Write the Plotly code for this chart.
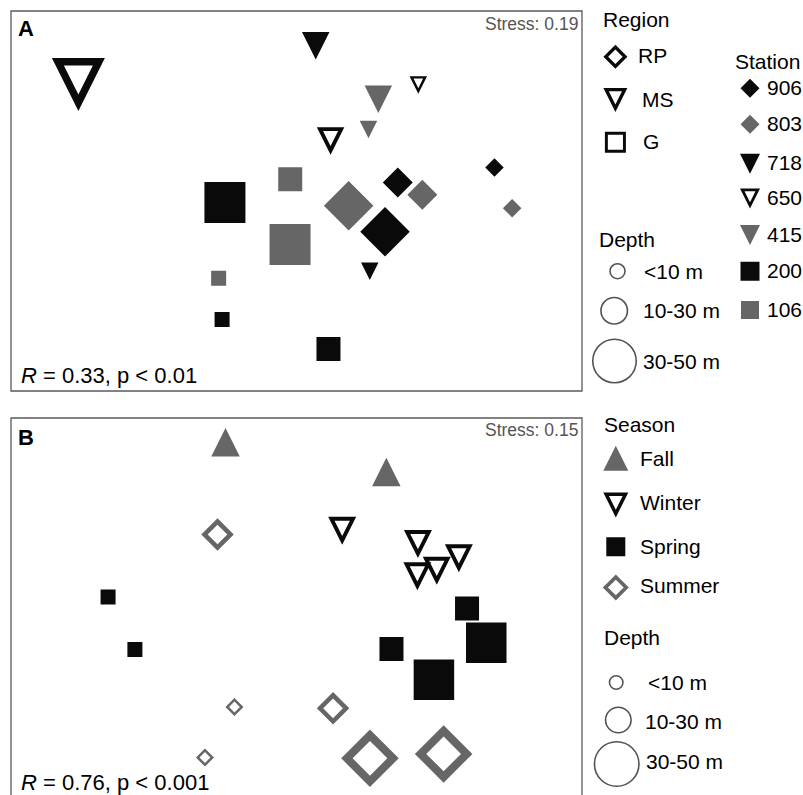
import numpy as np
import plotly.graph_objects as go

FIG_W, FIG_H = 803, 795
FONT = "Liberation Sans, Arial, Helvetica, sans-serif"
BLACK = "#0a0a0a"
GRAY = "#666666"
FRAME = "#5a5a5a"

# ---------------- data ----------------
# Panel A: NMDS scores by station (region) and depth class
a_station = ["650", "718", "415", "415", "650", "650", "718",
             "200", "200", "200", "106", "106", "106",
             "803", "906", "803", "906", "906", "803"]
a_depth = ["30-50 m", "10-30 m", "10-30 m", "<10 m", "10-30 m", "<10 m", "<10 m",
           "30-50 m", "<10 m", "10-30 m", "10-30 m", "30-50 m", "<10 m",
           "30-50 m", "10-30 m", "10-30 m", "30-50 m", "<10 m", "<10 m"]
a_nmds1 = [-1.146, 0.101, 0.430, 0.378, 0.179, 0.640, 0.385,
           -0.376, -0.391, 0.168, -0.033, -0.034, -0.409,
           0.274, 0.532, 0.661, 0.465, 1.040, 1.133]
a_nmds2 = [0.613, 0.817, 0.536, 0.376, 0.316, 0.611, -0.370,
           -0.008, -0.624, -0.779, 0.114, -0.229, -0.407,
           -0.025, 0.097, 0.033, -0.162, 0.176, -0.038]

# Panel B: NMDS scores by season and depth class
b_season = ["Fall", "Fall",
            "Winter", "Winter", "Winter", "Winter", "Winter",
            "Spring", "Spring", "Spring", "Spring", "Spring", "Spring",
            "Summer", "Summer", "Summer", "Summer", "Summer", "Summer"]
b_depth = ["10-30 m", "10-30 m",
           "10-30 m", "10-30 m", "10-30 m", "10-30 m", "10-30 m",
           "<10 m", "<10 m", "10-30 m", "10-30 m", "30-50 m", "30-50 m",
           "10-30 m", "<10 m", "<10 m", "10-30 m", "30-50 m", "30-50 m"]
b_nmds1 = [-0.373, 0.472,
           0.240, 0.638, 0.853, 0.737, 0.635,
           -0.990, -0.849, 0.896, 0.499, 0.997, 0.722,
           -0.415, -0.326, -0.481, 0.192, 0.386, 0.773]
b_nmds2 = [0.873, 0.716,
           0.406, 0.337, 0.262, 0.196, 0.167,
           0.058, -0.218, -0.002, -0.216, -0.183, -0.377,
           0.387, -0.521, -0.787, -0.528, -0.791, -0.768]

depth_classes = ["<10 m", "10-30 m", "30-50 m"]
regions = ["RP", "MS", "G"]
stations = ["906", "803", "718", "650", "415", "200", "106"]
seasons = ["Fall", "Winter", "Spring", "Summer"]
stress_a, stress_b = 0.19, 0.15
anosim_a = ("0.33", "0.01")
anosim_b = ("0.76", "0.001")

# ---------------- styles ----------------
# (shape, colour, open outline)
region_style = {"RP": ("dia", BLACK, True), "MS": ("tri_dn", BLACK, True), "G": ("sq", BLACK, True)}
station_style = {
    "906": ("dia", BLACK, False), "803": ("dia", GRAY, False),
    "718": ("tri_dn", BLACK, False), "650": ("tri_dn", BLACK, True),
    "415": ("tri_dn", GRAY, False),
    "200": ("sq", BLACK, False), "106": ("sq", GRAY, False),
}
season_style = {
    "Fall": ("tri_up", GRAY, False), "Winter": ("tri_dn", BLACK, True),
    "Spring": ("sq", BLACK, False), "Summer": ("dia", GRAY, True),
}
# marker widths in pixels for each depth class
size_a = {"tri_dn": [17.5, 27.5, 53], "tri_up": [17.5, 27.5, 53],
          "sq": [15, 24, 41], "dia": [18.5, 30, 49.5]}
size_b = {"tri_dn": [17.5, 28, 53], "tri_up": [17.5, 28.5, 53],
          "sq": [15, 24, 40.5], "dia": [18, 32.5, 57.5]}
RING = 0.14  # outline thickness relative to marker width

# ---------------- geometry ----------------
PX_X = (11, 582)
A_PX_Y = (11, 391)
B_PX_TOP = 418
X_RANGE = (-1.5, 1.5)
A_Y_RANGE = (-1.0, 1.0)
SX = (PX_X[1] - PX_X[0]) / (X_RANGE[1] - X_RANGE[0])
SY = (A_PX_Y[1] - A_PX_Y[0]) / (A_Y_RANGE[1] - A_Y_RANGE[0])
B_Y_RANGE = (1.0 - (FIG_H - B_PX_TOP) / SY, 1.0)


def base_shape(kind, w):
    h = w / 2.0
    if kind == "sq":
        return [(-h, -h), (h, -h), (h, h), (-h, h)]
    if kind == "dia":
        return [(0, -h), (h, 0), (0, h), (-h, 0)]
    if kind == "tri_dn":
        return [(-h, h), (0, -h), (h, h)]
    return [(-h, -h), (h, -h), (0, h)]


def inset(pts, t):
    n = len(pts)
    lines = []
    for i in range(n):
        p = np.array(pts[i], float)
        q = np.array(pts[(i + 1) % n], float)
        d = (q - p) / np.linalg.norm(q - p)
        nrm = np.array([-d[1], d[0]])
        lines.append((p + nrm * t, d))
    out = []
    for i in range(n):
        p1, d1 = lines[i - 1]
        p2, d2 = lines[i]
        a, _ = np.linalg.solve(np.array([d1, -d2]).T, p2 - p1)
        out.append(tuple(p1 + a * d1))
    return out


def marker_path(cx, cy, kind, w, is_open, sx, sy):
    outer = base_shape(kind, w)
    rings = [outer]
    if is_open:
        rings.append(inset(outer, RING * w)[::-1])
    xs, ys = [], []
    for poly in rings:
        for ox, oy in poly + [poly[0]]:
            xs.append(cx + ox / sx)
            ys.append(cy + oy / sy)
        xs.append(None)
        ys.append(None)
    return xs, ys


fig = go.Figure()


def add_group(paths, xa, ya):
    for (colour, _), (xs, ys) in paths.items():
        fig.add_trace(go.Scatter(x=xs, y=ys, mode="lines", fill="toself",
                                 fillcolor=colour, line=dict(width=0),
                                 hoverinfo="skip", xaxis=xa, yaxis=ya))


def collect(keys, depths, xs, ys, style, sizes, sx, sy):
    paths = {}
    for k, d, x, y in zip(keys, depths, xs, ys):
        kind, colour, is_open = style[k]
        w = sizes[kind][depth_classes.index(d)]
        px, py = marker_path(x, y, kind, w, is_open, sx, sy)
        bucket = paths.setdefault((colour, is_open), ([], []))
        bucket[0].extend(px)
        bucket[1].extend(py)
    return paths


# gray first, black on top
def ordered(paths):
    return dict(sorted(paths.items(), key=lambda kv: 0 if kv[0][0] == GRAY else 1))


add_group(ordered(collect(a_station, a_depth, a_nmds1, a_nmds2, station_style, size_a, SX, SY)), "x", "y")
add_group(ordered(collect(b_season, b_depth, b_nmds1, b_nmds2, season_style, size_b, SX, SY)), "x2", "y2")

# ---------------- legends (drawn on a full-page pixel overlay) ----------------
leg_paths = {}


def leg_symbol(kind, colour, is_open, cx, cy, w):
    px, py = marker_path(cx, cy, kind, w, is_open, 1.0, -1.0)
    bucket = leg_paths.setdefault((colour, is_open), ([], []))
    bucket[0].extend(px)
    bucket[1].extend(py)


annotations = []


def label(text, x, y, size=21, anchor="left", color="black"):
    annotations.append(dict(text=text, x=x, y=y, xref="x3", yref="y3",
                            xanchor=anchor, yanchor="middle", showarrow=False,
                            borderpad=0, font=dict(family=FONT, size=size, color=color)))


# Region legend
label("Region", 602, 19.5)
for name, cy, w, tx in zip(regions, [56.7, 100, 142.2], [24, 24, 21], [636.5, 641, 641.5]):
    kind, colour, is_open = region_style[name]
    leg_symbol(kind, colour, is_open, 615.4, cy, w)
    label(name, tx, cy - 1)

# Station legend
label("Station", 734, 61.5)
st_y = [88.3, 124.2, 163.7, 198.5, 235, 271.3, 310]
st_w = [19, 19, 20, 20, 20, 19, 18]
for name, cy, w in zip(stations, st_y, st_w):
    kind, colour, is_open = station_style[name]
    leg_symbol(kind, colour, is_open, 750, cy, w)
    label(name, 766, cy - 1)

# Season legend
label("Season", 603, 424)
se_y = [458.3, 505, 546.7, 587.5]
se_w = [25, 25, 19, 26]
se_ty = [458, 502, 546, 585]
for name, cy, w, ty in zip(seasons, se_y, se_w, se_ty):
    kind, colour, is_open = season_style[name]
    leg_symbol(kind, colour, is_open, 615.8, cy, w)
    label(name, 639, ty)

for (colour, _), (xs, ys) in ordered(leg_paths).items():
    fig.add_trace(go.Scatter(x=xs, y=ys, mode="lines", fill="toself",
                             fillcolor=colour, line=dict(width=0),
                             hoverinfo="skip", xaxis="x3", yaxis="y3"))

# Depth legends (open circles)
depth_a = dict(title=(598, 239.5), cx=[617.5, 614.2, 614.5], cy=[271.2, 310.8, 361],
               d=[15, 26.5, 43.5], tx=[643, 641.5, 642], ty=[271, 310, 361])
depth_b = dict(title=(603, 637.5), cx=[616.2, 618.3, 616.7], cy=[682.5, 720, 764],
               d=[13.5, 25.5, 44.5], tx=[647, 644, 644.5], ty=[682, 721, 761])
for leg in (depth_a, depth_b):
    label("Depth", *leg["title"])
    fig.add_trace(go.Scatter(x=leg["cx"], y=leg["cy"], mode="markers", hoverinfo="skip",
                             marker=dict(symbol="circle-open", size=leg["d"], color=BLACK,
                                         line=dict(width=1.6, color=BLACK)),
                             xaxis="x3", yaxis="y3"))
    for txt, x, y in zip(depth_classes, leg["tx"], leg["ty"]):
        label(txt.replace("<", "&lt;"), x, y)

# Panel annotations
label("<b>A</b>", 16.5, 28.5, size=22)
label(f"Stress: {stress_a:.2f}", 578.5, 23.5, size=17.5, anchor="right", color="#555555")
label(f"<i>R</i> = {anosim_a[0]}, p &lt; {anosim_a[1]}", 19.5, 375.5, size=22)
label("<b>B</b>", 16.5, 437.5, size=22)
label(f"Stress: {stress_b:.2f}", 578.5, 430, size=17.5, anchor="right", color="#555555")
label(f"<i>R</i> = {anosim_b[0]}, p &lt; {anosim_b[1]}", 19.5, 782.5, size=22)

# Panel frames
shapes = [
    dict(type="rect", xref="paper", yref="paper",
         x0=PX_X[0] / FIG_W, x1=PX_X[1] / FIG_W,
         y0=1 - A_PX_Y[1] / FIG_H, y1=1 - A_PX_Y[0] / FIG_H,
         line=dict(color=FRAME, width=1.3), fillcolor="rgba(0,0,0,0)", layer="above"),
    dict(type="rect", xref="paper", yref="paper",
         x0=PX_X[0] / FIG_W, x1=PX_X[1] / FIG_W,
         y0=-0.02, y1=1 - B_PX_TOP / FIG_H,
         line=dict(color=FRAME, width=1.3), fillcolor="rgba(0,0,0,0)", layer="above"),
]

hidden = dict(visible=False, showgrid=False, zeroline=False, fixedrange=True)
fig.update_layout(
    width=FIG_W, height=FIG_H,
    margin=dict(l=0, r=0, t=0, b=0),
    paper_bgcolor="white", plot_bgcolor="rgba(0,0,0,0)",
    showlegend=False,
    xaxis=dict(domain=[PX_X[0] / FIG_W, PX_X[1] / FIG_W], range=list(X_RANGE), anchor="y", **hidden),
    yaxis=dict(domain=[1 - A_PX_Y[1] / FIG_H, 1 - A_PX_Y[0] / FIG_H], range=list(A_Y_RANGE), anchor="x", **hidden),
    xaxis2=dict(domain=[PX_X[0] / FIG_W, PX_X[1] / FIG_W], range=list(X_RANGE), anchor="y2", **hidden),
    yaxis2=dict(domain=[0, 1 - B_PX_TOP / FIG_H], range=list(B_Y_RANGE), anchor="x2", **hidden),
    xaxis3=dict(domain=[0, 1], range=[0, FIG_W], anchor="y3", **hidden),
    yaxis3=dict(domain=[0, 1], range=[FIG_H, 0], anchor="x3", **hidden),
    annotations=annotations,
    shapes=shapes,
    font=dict(family=FONT),
)

fig.write_html("out.html")
